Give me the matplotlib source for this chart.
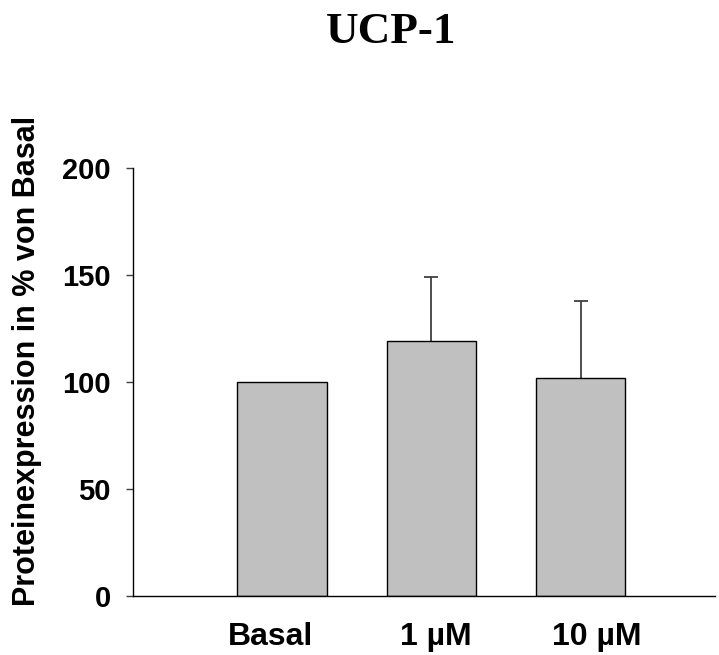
import numpy as np
import matplotlib.pyplot as plt

groups = ["Basal", "1 µM", "10 µM"]
means = [100, 119, 102]
sem_up = [0, 30, 36]
yticks = [0, 50, 100, 150, 200]

plt.rcParams['font.family'] = ['Liberation Sans', 'DejaVu Sans']

fig = plt.figure(figsize=(7.19, 6.55), dpi=100)
ax = fig.add_axes([0.185, 0.0901, 0.8094, 0.6534])

x = np.arange(len(groups))
means = np.array(means)
sem_up = np.array(sem_up)

ax.bar(x, means, width=0.6, color='#c0c0c0', edgecolor='black', linewidth=1.0, zorder=2)

# upper error bars only: stem plus a cap at the top
has_err = sem_up > 0
ax.vlines(x[has_err], means[has_err], means[has_err] + sem_up[has_err],
          color='#404040', linewidth=1.3, zorder=1)
ax.plot(x[has_err], means[has_err] + sem_up[has_err], linestyle='none', marker='_',
        markersize=9.4, markeredgewidth=1.3, color='#404040', zorder=1)

ax.set_xlim(-1.0, 2.9)
ax.set_ylim(0, 200)
ax.set_yticks(yticks)
ax.set_yticklabels([str(t) for t in yticks], fontsize=21, fontweight='bold')
ax.tick_params(axis='y', length=5, width=1, color='#404040', pad=11)

# category labels sit slightly off the bar centres
ax.set_xticks(x + np.array([-0.08, 0.03, 0.107]))
ax.set_xticklabels(groups, fontsize=23, fontweight='bold')
ax.tick_params(axis='x', length=0, pad=19)

for side in ['top', 'right']:
    ax.spines[side].set_visible(False)
for side in ['left', 'bottom']:
    ax.spines[side].set_linewidth(1.0)
    ax.spines[side].set_color('black')

fig.text(27 / 719, 1 - 361 / 655, "Proteinexpression in % von Basal", fontsize=22,
         fontweight='bold', rotation=90, ha='center', va='center')

fig.text(391 / 719, 1 - 32 / 655, "UCP-1", family='Liberation Serif', fontsize=32.5,
         fontweight='bold', ha='center', va='center')

fig.savefig('out.png', dpi=100)
